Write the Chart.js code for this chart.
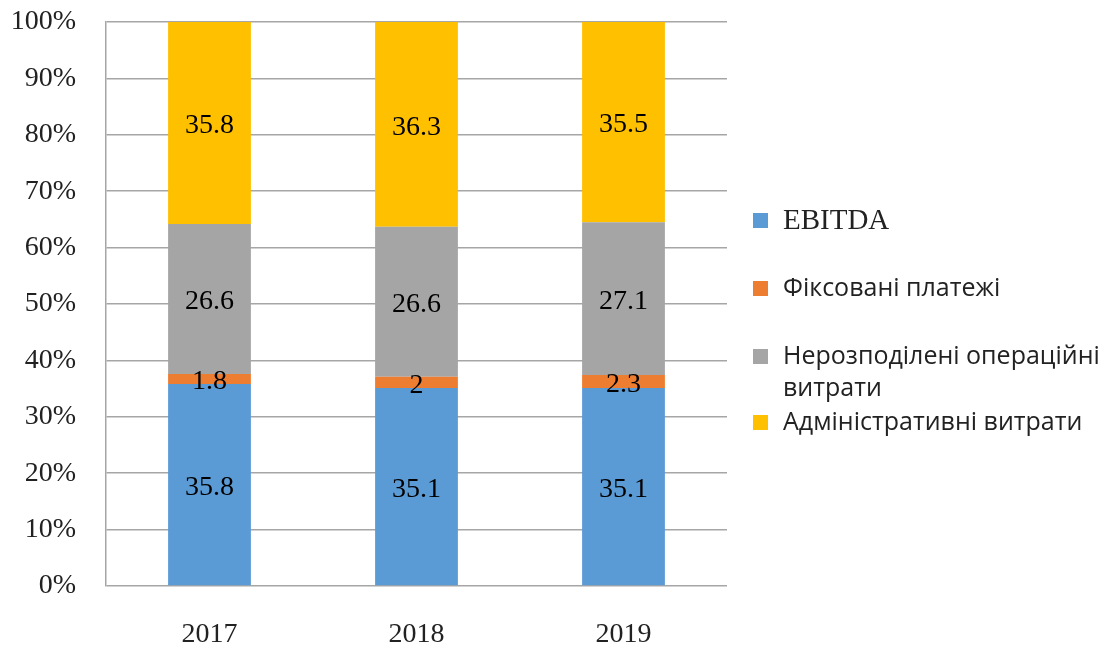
<!DOCTYPE html>
<html>
<head>
<meta charset="utf-8">
<script src="https://cdn.jsdelivr.net/npm/chart.js@4/dist/chart.umd.min.js"></script>
<style>
  html, body { margin: 0; padding: 0; background: #fff; }
  #wrap { width: 1119px; height: 651px; position: relative; }
</style>
</head>
<body>
<div id="wrap"><canvas id="chart"></canvas></div>
<script>
// дані з діаграми
const years = ['2017', '2018', '2019'];
const ebitda = [35.8, 35.1, 35.1];
const fixedPayments = [1.8, 2, 2.3];
const operating = [26.6, 26.6, 27.1];
const admin = [35.8, 36.3, 35.5];
const seriesNames = [
  ['EBITDA'],
  ['Фіксовані платежі'],
  ['Нерозподілені операційні', 'витрати'],
  ['Адміністративні витрати']
];
const colors = ['#5b9bd5', '#ed7d31', '#a5a5a5', '#ffc000'];

const serif = '"Liberation Serif", "Times New Roman", serif';
const sans = '"Open Sans", "Noto Sans", sans-serif';

// підписи значень всередині сегментів
const valueLabels = {
  id: 'valueLabels',
  afterDatasetsDraw(chart) {
    const ctx = chart.ctx;
    ctx.save();
    ctx.fillStyle = '#000';
    ctx.font = '28px ' + serif;
    ctx.textAlign = 'center';
    ctx.textBaseline = 'middle';
    chart.data.datasets.forEach((ds, i) => {
      chart.getDatasetMeta(i).data.forEach((bar, j) => {
        const y = (bar.y + bar.base) / 2;
        ctx.fillText(String(ds.data[j]), bar.x, y + 3);
      });
    });
    ctx.restore();
  }
};

// легенда праворуч
const sideLegend = {
  id: 'sideLegend',
  afterDraw(chart) {
    const ctx = chart.ctx;
    const area = chart.chartArea;
    const x0 = area.right + 26;
    const rows = [220, 288, 356, 422];
    ctx.save();
    ctx.textBaseline = 'middle';
    ctx.textAlign = 'left';
    chart.data.datasets.forEach((ds, i) => {
      const cy = rows[i];
      ctx.fillStyle = ds.backgroundColor;
      ctx.fillRect(x0, cy - 7, 15, 15);
      ctx.fillStyle = '#222';
      ctx.font = i === 0 ? '29px ' + serif : '25px ' + sans;
      ds.label.forEach((line, k) => {
        ctx.fillText(line, x0 + 30, cy + 1 + k * 32);
      });
    });
    ctx.restore();
  }
};

const datasets = [ebitda, fixedPayments, operating, admin].map((d, i) => ({
  label: seriesNames[i],
  data: d,
  backgroundColor: colors[i],
  borderWidth: 0,
  categoryPercentage: 1,
  barPercentage: 0.4
}));

new Chart(document.getElementById('chart'), {
  type: 'bar',
  data: { labels: years, datasets: datasets },
  options: {
    responsive: true,
    maintainAspectRatio: false,
    animation: false,
    layout: { padding: { top: 22, right: 392, bottom: 0, left: 10 } },
    plugins: {
      legend: { display: false },
      tooltip: { enabled: false }
    },
    scales: {
      x: {
        stacked: true,
        grid: { display: false, drawTicks: false },
        border: { display: false },
        ticks: { color: '#222', font: { family: serif, size: 28 }, padding: 32 },
        afterFit: (scale) => { scale.height = 65; }
      },
      y: {
        stacked: true,
        min: 0,
        max: 100,
        grid: { color: '#a6a6a6', lineWidth: 1.5, drawTicks: false },
        border: { display: true, color: '#a6a6a6', width: 1.5 },
        ticks: {
          stepSize: 10,
          color: '#222',
          padding: 30,
          font: { family: serif, size: 28 },
          callback: (v) => v + '%'
        },
        afterFit: (scale) => {
          scale.width = 96;
          scale.paddingTop = 0;
          scale.paddingBottom = 0;
        }
      }
    }
  },
  plugins: [valueLabels, sideLegend]
});
</script>
</body>
</html>
